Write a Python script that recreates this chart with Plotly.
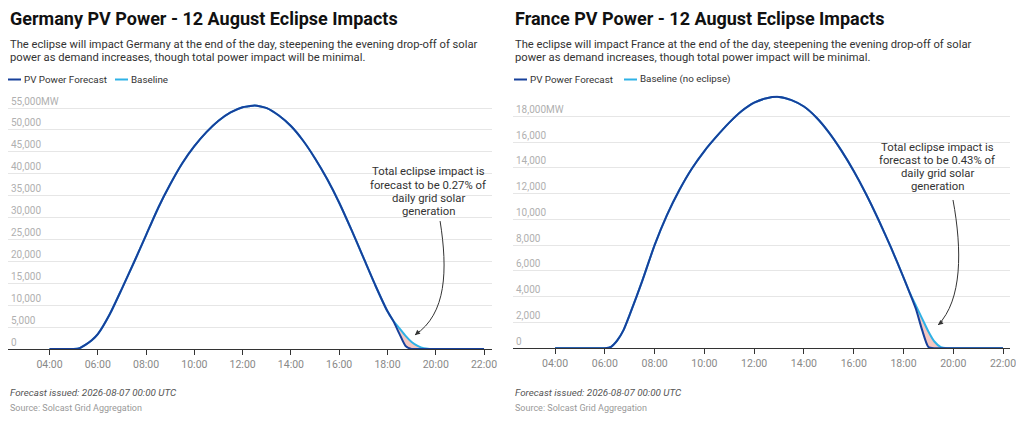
import plotly.graph_objects as go

# hours of the day (decimal), shared by both series
hours_de = [4, 4.5, 5, 5.25, 5.5, 5.75, 6, 6.5, 7, 7.5, 8, 8.5, 9, 9.5, 10, 10.5, 11, 11.5, 12, 12.25,
            12.5, 13, 13.5, 14, 14.5, 15, 15.5, 16, 16.5, 17, 17.5, 18, 18.25, 18.5, 18.75, 19, 19.25,
            19.5, 19.75, 20, 21, 22]
forecast_de = [0, 0, 0, 200, 1000, 2000, 3400, 8000, 13800, 19800, 26000, 32200, 37600, 42400, 46300,
               49500, 52100, 54000, 55200, 55400, 55600, 55000, 53300, 50900, 47600, 43500, 38800, 33400,
               27300, 20900, 14500, 8600, 6300, 3400, 700, 0, 0, 0, 0, 0, 0, 0]
baseline_de = [0, 0, 0, 200, 1000, 2000, 3400, 8000, 13800, 19800, 26000, 32200, 37600, 42400, 46300,
               49500, 52100, 54000, 55200, 55400, 55600, 55000, 53300, 50900, 47600, 43500, 38800, 33400,
               27300, 20900, 14500, 8600, 6400, 4700, 3000, 1600, 700, 150, 0, 0, 0, 0]

hours_fr = [4, 4.5, 5, 5.5, 6, 6.25, 6.5, 6.75, 7, 7.5, 8, 8.5, 9, 9.5, 10, 10.5, 11, 11.5, 12, 12.5,
            13, 13.5, 14, 14.5, 15, 15.5, 16, 16.5, 17, 17.5, 18, 18.25, 18.5, 18.75, 19, 19.25, 19.5,
            19.75, 20, 21, 22]
forecast_fr = [0, 0, 0, 0, 0, 100, 600, 1400, 2600, 5200, 8000, 10350, 12300, 13950, 15300, 16450,
               17500, 18400, 19050, 19400, 19500, 19250, 18750, 17900, 16750, 15350, 13750, 11950, 9950,
               7800, 5500, 4300, 3050, 1400, 100, 0, 0, 0, 0, 0, 0]
baseline_fr = [0, 0, 0, 0, 0, 100, 600, 1400, 2600, 5200, 8000, 10350, 12300, 13950, 15300, 16450,
               17500, 18400, 19050, 19400, 19500, 19250, 18750, 17900, 16750, 15350, 13750, 11950, 9950,
               7800, 5500, 4300, 3300, 2300, 1300, 500, 80, 0, 0, 0, 0]

x_tickvals = [4, 6, 8, 10, 12, 14, 16, 18, 20, 22]
x_ticktext = ["04:00", "06:00", "08:00", "10:00", "12:00", "14:00", "16:00", "18:00", "20:00", "22:00"]
y_tickvals_de = [0, 5000, 10000, 15000, 20000, 25000, 30000, 35000, 40000, 45000, 50000, 55000]
y_ticktext_de = ["0", "5,000", "10,000", "15,000", "20,000", "25,000", "30,000", "35,000", "40,000",
                 "45,000", "50,000", "55,000MW"]
y_tickvals_fr = [0, 2000, 4000, 6000, 8000, 10000, 12000, 14000, 16000, 18000]
y_ticktext_fr = ["0", "2,000", "4,000", "6,000", "8,000", "10,000", "12,000", "14,000", "16,000",
                 "18,000MW"]

FORECAST = "#17409b"
BASELINE = "#2fb2e6"
IMPACT = "#f5c7c1"
FONT = "Roboto"

# the page body adds an 8px margin, so positions are measured with that offset taken off
W, H, OFF = 1024, 421, 8


def px_x(px):
    return (px - OFF) / W


def px_y(py):
    return 1 - (py - OFF) / H


fig = go.Figure()

series = [
    (hours_de, forecast_de, baseline_de, "Baseline", "x", "y"),
    (hours_fr, forecast_fr, baseline_fr, "Baseline (no eclipse)", "x2", "y2"),
]
for hrs, fc, bl, bl_name, xa, ya in series:
    spline = dict(shape="spline", smoothing=0.6)
    fig.add_trace(go.Scatter(x=hrs, y=bl, mode="lines", name=bl_name,
                             line=dict(color=BASELINE, width=2, **spline),
                             xaxis=xa, yaxis=ya))
    # pink area between baseline and eclipse forecast
    fig.add_trace(go.Scatter(x=hrs, y=fc, mode="lines", line=dict(width=0, **spline),
                             fill="tonexty", fillcolor=IMPACT, hoverinfo="skip",
                             xaxis=xa, yaxis=ya))
    fig.add_trace(go.Scatter(x=hrs, y=fc, mode="lines", name="PV Power Forecast",
                             line=dict(color=FORECAST, width=2, **spline),
                             xaxis=xa, yaxis=ya))

xaxis_style = dict(tickvals=x_tickvals, ticktext=x_ticktext, showgrid=False, zeroline=False,
                   showline=True, linecolor="#333333", linewidth=1, ticks="outside", ticklen=5,
                   tickcolor="#333333", tickfont=dict(family=FONT, size=10.5, color="#888888"))
yaxis_style = dict(showgrid=True, gridcolor="#e6e6e6", gridwidth=1, zeroline=False, showline=False,
                   ticks="", ticklabelposition="inside top", ticklabeloverflow="allow",
                   tickfont=dict(family=FONT, size=10, color="#b0b0b0"))

fig.update_layout(
    width=W, height=H,
    margin=dict(l=0, r=0, t=0, b=0, autoexpand=False),
    paper_bgcolor="white", plot_bgcolor="white",
    font=dict(family=FONT, color="#333333"),
    showlegend=False,
    xaxis=dict(domain=[px_x(8), px_x(492)], range=[2.28, 22.33], anchor="y", **xaxis_style),
    yaxis=dict(domain=[px_y(349), px_y(103.7)], range=[0, 56000], anchor="x",
               tickvals=y_tickvals_de, ticktext=y_ticktext_de, **yaxis_style),
    xaxis2=dict(domain=[px_x(513), px_x(1010)], range=[2.31, 22.28], anchor="y2", **xaxis_style),
    yaxis2=dict(domain=[px_y(348.2), px_y(95.6)], range=[0, 19600], anchor="x2",
                tickvals=y_tickvals_fr, ticktext=y_ticktext_fr, **yaxis_style),
)

panels = [
    dict(left=8, country="Germany", note_x=428, note_top=172, share="0.27%",
         legend=[(8, "PV Power Forecast", FORECAST), (115, "Baseline", BASELINE)],
         arrow=("x", "y", [20.18, 29200, 20.5, 18000, 20.45, 8000, 19.14, 3200])),
    dict(left=513, country="France", note_x=937, note_top=147, share="0.43%",
         legend=[(514, "PV Power Forecast", FORECAST), (624, "Baseline (no eclipse)", BASELINE)],
         arrow=("x2", "y2", [19.99, 11500, 20.36, 7600, 20.36, 3750, 19.39, 1800])),
]

for p in panels:
    lx = px_x(p["left"])
    fig.add_annotation(text="<b>%s PV Power - 12 August Eclipse Impacts</b>" % p["country"],
                       x=lx, y=px_y(19), xref="paper", yref="paper", xanchor="left", yanchor="middle",
                       showarrow=False, font=dict(family=FONT, size=18, color="#111111"))
    sub = ["The eclipse will impact %s at the end of the day, steepening the evening drop-off of solar" % p["country"],
           "power as demand increases, though total power impact will be minimal."]
    for i, line in enumerate(sub):
        fig.add_annotation(text=line, x=lx, y=px_y(44.5 + 13.5 * i), xref="paper", yref="paper",
                           xanchor="left", yanchor="middle", showarrow=False,
                           font=dict(family=FONT, size=11.2, color="#333333"))
    # legend: short line swatch + label
    for sx, label, color in p["legend"]:
        fig.add_shape(type="line", xref="paper", yref="paper", x0=px_x(sx), x1=px_x(sx + 13),
                      y0=px_y(79.5), y1=px_y(79.5), line=dict(color=color, width=2))
        fig.add_annotation(text=label, x=px_x(sx + 14), y=px_y(79), xref="paper", yref="paper",
                           xanchor="left", yanchor="middle", showarrow=False,
                           font=dict(family=FONT, size=9.8, color="#333333"))
    fig.add_annotation(text="<i>Forecast issued: 2026-08-07 00:00 UTC</i>", x=lx, y=px_y(392),
                       xref="paper", yref="paper", xanchor="left", yanchor="middle", showarrow=False,
                       font=dict(family=FONT, size=9.8, color="#555555"))
    fig.add_annotation(text="Source: Solcast Grid Aggregation", x=lx, y=px_y(407.5),
                       xref="paper", yref="paper", xanchor="left", yanchor="middle", showarrow=False,
                       font=dict(family=FONT, size=9, color="#999999"))
    note = ["Total eclipse impact is", "forecast to be %s of" % p["share"], "daily grid solar", "generation"]
    for i, line in enumerate(note):
        fig.add_annotation(text=line, x=px_x(p["note_x"]), y=px_y(p["note_top"] + 13.3 * i),
                           xref="paper", yref="paper", xanchor="center", yanchor="middle", showarrow=False,
                           font=dict(family=FONT, size=11.3, color="#333333"))
    xr, yr, c = p["arrow"]
    fig.add_shape(type="path", xref=xr, yref=yr,
                  path="M %s,%s C %s,%s %s,%s %s,%s" % tuple(c),
                  line=dict(color="#333333", width=1))
    fig.add_annotation(x=c[6], y=c[7], xref=xr, yref=yr, ax=6, ay=-5, text="", showarrow=True,
                       arrowhead=2, arrowsize=1, arrowwidth=1, arrowcolor="#333333", standoff=0)

fig.write_html("out.html")
